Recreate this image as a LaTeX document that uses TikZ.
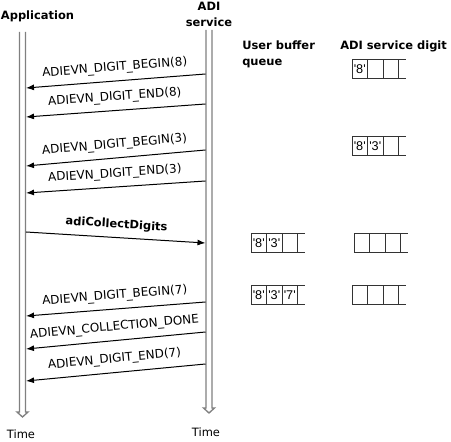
\documentclass[tikz,border=0pt]{standalone}
\usepackage{fontspec}
\setmainfont{DejaVu Sans}
\newfontfamily\cellfont{Liberation Sans}
\usetikzlibrary{arrows.meta}
\definecolor{lifegray}{RGB}{128,128,128}
\newcommand\bufrow[5]{%
  \draw[cell] (#1,#2) -- ++(54,0) (#1,#2+19) -- ++(54,0)
    (#1,#2) -- ++(0,19) (#1+15.5,#2) -- ++(0,19)
    (#1+31,#2) -- ++(0,19) (#1+46.5,#2) -- ++(0,19);
  \node[celltxt] at (#1+7.75,#2+9.5) {#3};
  \node[celltxt] at (#1+23.25,#2+9.5) {#4};
  \node[celltxt] at (#1+38.75,#2+9.5) {#5};
}
\begin{document}
\begin{tikzpicture}[x=0.75pt,y=-0.75pt,
  life/.style={draw=lifegray, line width=1pt, line join=miter},
  msg/.style={draw=black, line width=0.75pt, -{Latex[length=6pt,width=4.5pt]}},
  lbl/.style={font=\fontsize{9}{10}\selectfont, sloped, above=5pt, inner sep=0pt},
  blbl/.style={font=\bfseries\fontsize{8.6}{10}\selectfont, sloped, above=5pt, inner sep=0pt},
  title/.style={font=\bfseries\fontsize{8.6}{12}\selectfont, inner sep=0pt},
  timetxt/.style={font=\fontsize{8.6}{10}\selectfont, inner sep=0pt},
  cell/.style={draw=black!80, line width=0.75pt},
  celltxt/.style={font=\cellfont\fontsize{9.5}{10}\selectfont, inner sep=0pt},
]
\useasboundingbox (0,0) rectangle (451,442);

% titles
\node[title] (tApp) at (37.5,16.5) {Application};
\node[title, align=center] (tADI) at (209,14) {ADI\\service};
\node[title, align=left, anchor=north west] (tUser) at (242,41) {User buffer\\queue};
\node[title, anchor=north west] (tDigit) at (340,41) {ADI service digit};

% lifelines
\coordinate (appTop) at (22.5,32);
\coordinate (adiTop) at (209,30);
\draw[life] (appTop) ++(-3,0) -- ++(0,380) -- ++(-2.5,0) -- ++(5.5,5) -- ++(5.5,-5) -- ++(-2.5,0) -- ++(0,-380);
\draw[life] (adiTop) ++(-3,0) -- ++(0,378) -- ++(-2.5,0) -- ++(5.5,5) -- ++(5.5,-5) -- ++(-2.5,0) -- ++(0,-378);
\node[timetxt] (timeApp) at (21,434) {Time};
\node[timetxt] (timeADI) at (206,432) {Time};

% message end points
\coordinate (s1) at (205.5,74);  \coordinate (e1) at (26,88);
\coordinate (s2) at (205.5,104); \coordinate (e2) at (26,117);
\coordinate (s3) at (205.5,150); \coordinate (e3) at (26,166);
\coordinate (s4) at (205.5,181); \coordinate (e4) at (26,193);
\coordinate (s5) at (26,232);    \coordinate (e5) at (205.5,243);
\coordinate (s6) at (205.5,302); \coordinate (e6) at (26,316);
\coordinate (s7) at (205.5,332); \coordinate (e7) at (26,349);
\coordinate (s8) at (205.5,364); \coordinate (e8) at (26,381);

\draw[msg] (s1) -- node[lbl] (m1) {ADIEVN\_DIGIT\_BEGIN(8)} (e1);
\draw[msg] (s2) -- node[lbl] (m2) {ADIEVN\_DIGIT\_END(8)} (e2);
\draw[msg] (s3) -- node[lbl] (m3) {ADIEVN\_DIGIT\_BEGIN(3)} (e3);
\draw[msg] (s4) -- node[lbl] (m4) {ADIEVN\_DIGIT\_END(3)} (e4);
\draw[msg] (s5) -- node[blbl] (m5) {adiCollectDigits} (e5);
\draw[msg] (s6) -- node[lbl] (m6) {ADIEVN\_DIGIT\_BEGIN(7)} (e6);
\draw[msg] (s7) -- node[lbl] (m7) {ADIEVN\_COLLECTION\_DONE} (e7);
\draw[msg] (s8) -- node[lbl] (m8) {ADIEVN\_DIGIT\_END(7)} (e8);

% buffers
\bufrow{352}{60}{'8'}{}{}
\bufrow{352}{137}{'8'}{'3'}{}
\bufrow{251}{234}{'8'}{'3'}{}
\bufrow{354}{234}{}{}{}
\bufrow{251}{286}{'8'}{'3'}{'7'}
\bufrow{352}{286}{}{}{}
\end{tikzpicture}
\end{document}
